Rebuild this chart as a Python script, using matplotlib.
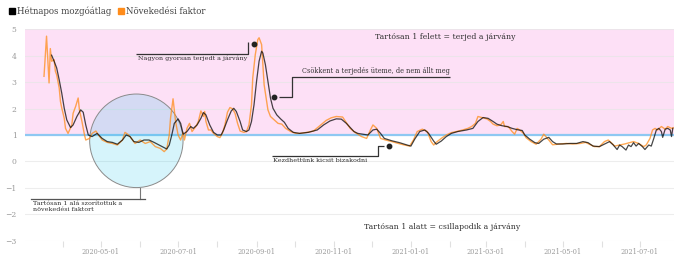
import matplotlib
matplotlib.use('Agg')
import matplotlib.pyplot as plt
import matplotlib.dates as mdates
from matplotlib.lines import Line2D
from matplotlib.patches import Ellipse
import pandas as pd

plt.rcParams['font.family'] = ['DejaVu Serif']

# Növekedési faktor (daily growth factor)
growth_dates = [
    '2020-03-17', '2020-03-19', '2020-03-21', '2020-03-22', '2020-03-23', '2020-03-25', '2020-03-26',
    '2020-03-27', '2020-03-29', '2020-03-30', '2020-03-31', '2020-04-02', '2020-04-03', '2020-04-05',
    '2020-04-08', '2020-04-09', '2020-04-11', '2020-04-13', '2020-04-14', '2020-04-16', '2020-04-18',
    '2020-04-19', '2020-04-22', '2020-04-24', '2020-04-27', '2020-04-29', '2020-05-02', '2020-05-06',
    '2020-05-10', '2020-05-14', '2020-05-18', '2020-05-20', '2020-05-23', '2020-05-25', '2020-05-28',
    '2020-06-01', '2020-06-05', '2020-06-09', '2020-06-13', '2020-06-17', '2020-06-20', '2020-06-22',
    '2020-06-24', '2020-06-25', '2020-06-27', '2020-06-29', '2020-07-01', '2020-07-03', '2020-07-05',
    '2020-07-06', '2020-07-08', '2020-07-10', '2020-07-12', '2020-07-15', '2020-07-17', '2020-07-19',
    '2020-07-21', '2020-07-22', '2020-07-23', '2020-07-25', '2020-07-27', '2020-07-29', '2020-08-01',
    '2020-08-03', '2020-08-05', '2020-08-07', '2020-08-09', '2020-08-11', '2020-08-13', '2020-08-15',
    '2020-08-17', '2020-08-19', '2020-08-22', '2020-08-24', '2020-08-26', '2020-08-28', '2020-08-29',
    '2020-08-31', '2020-09-02', '2020-09-03', '2020-09-05', '2020-09-06', '2020-09-07', '2020-09-09',
    '2020-09-10', '2020-09-12', '2020-09-15', '2020-09-18', '2020-09-21', '2020-09-24', '2020-09-28',
    '2020-10-02', '2020-10-05', '2020-10-11', '2020-10-16', '2020-10-21', '2020-10-26', '2020-10-30',
    '2020-11-03', '2020-11-08', '2020-11-14', '2020-11-18', '2020-11-23', '2020-11-27', '2020-11-30',
    '2020-12-02', '2020-12-05', '2020-12-08', '2020-12-12', '2020-12-17', '2020-12-22', '2020-12-27',
    '2020-12-31', '2021-01-03', '2021-01-06', '2021-01-10', '2021-01-14', '2021-01-17', '2021-01-19',
    '2021-01-21', '2021-01-25', '2021-01-29', '2021-02-02', '2021-02-06', '2021-02-11', '2021-02-15',
    '2021-02-18', '2021-02-21', '2021-02-23', '2021-02-26', '2021-03-02', '2021-03-05', '2021-03-07',
    '2021-03-10', '2021-03-13', '2021-03-15', '2021-03-16', '2021-03-19', '2021-03-22', '2021-03-24',
    '2021-03-26', '2021-03-28', '2021-03-31', '2021-04-02', '2021-04-06', '2021-04-10', '2021-04-14',
    '2021-04-16', '2021-04-20', '2021-04-23', '2021-04-29', '2021-05-04', '2021-05-09', '2021-05-15',
    '2021-05-19', '2021-05-22', '2021-05-26', '2021-05-30', '2021-06-03', '2021-06-06', '2021-06-09',
    '2021-06-11', '2021-06-15', '2021-06-19', '2021-06-23', '2021-06-26', '2021-06-30', '2021-07-04',
    '2021-07-06', '2021-07-09', '2021-07-11', '2021-07-13', '2021-07-15', '2021-07-18', '2021-07-21',
    '2021-07-23', '2021-07-26', '2021-07-28',
]
growth_values = [
    3.22, 4.74, 2.97, 4.27, 3.79, 3.85, 3.41,
    3.28, 2.78, 2.27, 2.03, 1.63, 1.25, 1.06,
    1.38, 1.82, 2.08, 2.40, 1.95, 1.51, 1.00,
    0.81, 0.87, 1.06, 1.15, 1.00, 0.81, 0.72,
    0.68, 0.62, 0.81, 1.10, 1.00, 0.87, 0.68,
    0.81, 0.68, 0.75, 0.56, 0.49, 0.37, 0.47,
    1.00, 1.63, 2.37, 1.51, 1.00, 0.81, 1.10,
    0.81, 1.25, 1.44, 1.13, 1.32, 1.51, 1.91,
    1.70, 1.89, 1.51, 1.19, 1.19, 1.06, 0.94,
    0.90, 1.06, 1.38, 1.86, 2.04, 1.99, 1.82,
    1.44, 1.15, 1.10, 1.13, 1.38, 2.14, 3.16,
    4.04, 4.61, 4.68, 4.42, 3.66, 2.90, 2.27,
    1.95, 1.70, 1.57, 1.44, 1.41, 1.25, 1.13,
    1.06, 1.06, 1.10, 1.15, 1.35, 1.55, 1.65,
    1.70, 1.68, 1.25, 1.09, 0.94, 0.87, 1.19,
    1.38, 1.25, 0.87, 0.81, 0.75, 0.68, 0.62,
    0.58, 0.81, 1.13, 1.22, 1.13, 0.75, 0.62,
    0.72, 0.87, 1.00, 1.09, 1.13, 1.19, 1.25,
    1.32, 1.44, 1.70, 1.66, 1.61, 1.51, 1.41,
    1.35, 1.38, 1.51, 1.32, 1.32, 1.13, 1.03,
    1.25, 1.19, 1.06, 0.90, 0.75, 0.65, 0.85,
    1.03, 0.81, 0.63, 0.66, 0.68, 0.66, 0.68,
    0.72, 0.65, 0.56, 0.56, 0.75, 0.81, 0.68,
    0.58, 0.62, 0.66, 0.71, 0.75, 0.68, 0.56,
    0.62, 0.87, 1.19, 1.25, 1.19, 1.32, 1.22,
    1.32, 1.25, 1.28,
]

# Hétnapos mozgóátlag (7-day moving average)
ma_dates = [
    '2020-03-23', '2020-03-25', '2020-03-27', '2020-03-29', '2020-03-31', '2020-04-02', '2020-04-04',
    '2020-04-07', '2020-04-09', '2020-04-12', '2020-04-15', '2020-04-17', '2020-04-19', '2020-04-21',
    '2020-04-24', '2020-04-28', '2020-05-02', '2020-05-06', '2020-05-10', '2020-05-14', '2020-05-18',
    '2020-05-21', '2020-05-24', '2020-05-27', '2020-05-31', '2020-06-04', '2020-06-08', '2020-06-12',
    '2020-06-16', '2020-06-20', '2020-06-22', '2020-06-24', '2020-06-26', '2020-06-28', '2020-07-01',
    '2020-07-03', '2020-07-05', '2020-07-08', '2020-07-11', '2020-07-13', '2020-07-16', '2020-07-19',
    '2020-07-21', '2020-07-23', '2020-07-26', '2020-07-29', '2020-08-01', '2020-08-04', '2020-08-06',
    '2020-08-09', '2020-08-12', '2020-08-14', '2020-08-16', '2020-08-19', '2020-08-21', '2020-08-24',
    '2020-08-26', '2020-08-28', '2020-08-30', '2020-09-01', '2020-09-03', '2020-09-05', '2020-09-06',
    '2020-09-08', '2020-09-10', '2020-09-12', '2020-09-14', '2020-09-17', '2020-09-20', '2020-09-23',
    '2020-09-26', '2020-09-30', '2020-10-05', '2020-10-12', '2020-10-19', '2020-10-24', '2020-10-29',
    '2020-11-03', '2020-11-07', '2020-11-11', '2020-11-17', '2020-11-20', '2020-11-24', '2020-11-28',
    '2020-12-02', '2020-12-05', '2020-12-08', '2020-12-11', '2020-12-17', '2020-12-23', '2020-12-29',
    '2021-01-01', '2021-01-04', '2021-01-08', '2021-01-12', '2021-01-15', '2021-01-19', '2021-01-21',
    '2021-01-25', '2021-01-29', '2021-02-02', '2021-02-07', '2021-02-14', '2021-02-19', '2021-02-23',
    '2021-02-27', '2021-03-03', '2021-03-07', '2021-03-10', '2021-03-14', '2021-03-18', '2021-03-22',
    '2021-03-26', '2021-03-30', '2021-04-01', '2021-04-05', '2021-04-09', '2021-04-12', '2021-04-16',
    '2021-04-20', '2021-04-23', '2021-04-26', '2021-05-01', '2021-05-07', '2021-05-12', '2021-05-17',
    '2021-05-21', '2021-05-25', '2021-05-30', '2021-06-04', '2021-06-07', '2021-06-10', '2021-06-13',
    '2021-06-15', '2021-06-17', '2021-06-20', '2021-06-22', '2021-06-24', '2021-06-26', '2021-06-28',
    '2021-06-30', '2021-07-03', '2021-07-05', '2021-07-08', '2021-07-10', '2021-07-12', '2021-07-14',
    '2021-07-16', '2021-07-18', '2021-07-19', '2021-07-21', '2021-07-23', '2021-07-25', '2021-07-26',
    '2021-07-27',
]
ma_values = [
    4.02, 3.79, 3.54, 3.09, 2.59, 2.01, 1.57,
    1.28, 1.38, 1.70, 1.95, 1.86, 1.38, 1.00,
    0.94, 1.06, 0.87, 0.75, 0.72, 0.65, 0.81,
    1.00, 0.94, 0.75, 0.72, 0.81, 0.81, 0.72,
    0.62, 0.52, 0.47, 0.62, 1.00, 1.44, 1.61,
    1.44, 1.03, 1.13, 1.32, 1.25, 1.38, 1.63,
    1.85, 1.76, 1.38, 1.10, 1.00, 1.00, 1.19,
    1.57, 1.91, 2.01, 1.89, 1.51, 1.19, 1.13,
    1.19, 1.51, 2.14, 3.03, 3.79, 4.17, 4.10,
    3.66, 3.03, 2.40, 2.01, 1.76, 1.61, 1.48,
    1.25, 1.10, 1.06, 1.10, 1.19, 1.38, 1.53,
    1.61, 1.60, 1.44, 1.13, 1.06, 1.03, 1.00,
    1.19, 1.22, 1.06, 0.87, 0.78, 0.71, 0.62,
    0.58, 0.84, 1.13, 1.19, 1.06, 0.77, 0.65,
    0.77, 0.94, 1.06, 1.13, 1.19, 1.25, 1.51,
    1.66, 1.63, 1.51, 1.41, 1.35, 1.32, 1.25,
    1.20, 1.17, 1.00, 0.84, 0.71, 0.68, 0.84,
    0.91, 0.75, 0.66, 0.66, 0.68, 0.68, 0.75,
    0.71, 0.58, 0.56, 0.68, 0.75, 0.62, 0.45,
    0.62, 0.56, 0.43, 0.62, 0.56, 0.71, 0.58,
    0.68, 0.56, 0.45, 0.62, 0.58, 0.87, 1.19,
    1.25, 1.13, 0.91, 1.22, 1.25, 1.19, 0.94,
    1.25,
]

legend_labels = ['Hétnapos mozgóátlag', 'Növekedési faktor']
above_text = 'Tartósan 1 felett = terjed a járvány'
below_text = 'Tartósan 1 alatt = csillapodik a járvány'

orange = '#ff8c1a'
text_col = '#333333'

g_x = pd.to_datetime(growth_dates)
m_x = pd.to_datetime(ma_dates)
d = lambda s: mdates.date2num(pd.Timestamp(s))

fig = plt.figure(figsize=(6.99, 2.58), dpi=100)
ax = fig.add_axes([0.0358, 0.0671, 0.9285, 0.8194])

ax.axhspan(1, 5, color='#fde0f6', lw=0, zorder=0)
for yv in range(-3, 6):
    ax.axhline(yv, color='#e6e6e6', lw=0.8, alpha=0.7, zorder=1)
ax.axhline(1, color='#8ec8f2', lw=1.6, zorder=2)

# circle around the spring lockdown period
circ = Ellipse((d('2020-05-29'), 0.78), 73.8, 3.54, facecolor='#00c0e8', alpha=0.16,
               edgecolor='none', zorder=2)
ax.add_patch(circ)
circ_edge = Ellipse((d('2020-05-29'), 0.78), 73.8, 3.54, facecolor='none',
                    edgecolor='#8a8a8a', lw=0.7, zorder=2)
ax.add_patch(circ_edge)

ax.plot(g_x, growth_values, color=orange, lw=1.0, alpha=0.75, zorder=3)
ax.plot(m_x, ma_values, color='black', lw=0.9, alpha=0.72, zorder=4)

ax.set_xlim(d('2020-03-02'), d('2021-07-28'))
ax.set_ylim(-3, 5)

ax.xaxis.set_major_locator(mdates.MonthLocator(bymonth=[1, 3, 5, 7, 9, 11]))
ax.xaxis.set_major_formatter(mdates.DateFormatter('%Y-%m-%d'))
ax.xaxis.set_minor_locator(mdates.MonthLocator())
ax.set_yticks(range(-3, 6))
ax.set_yticklabels([str(v).replace('-', '\u2212') for v in range(-3, 6)])
ax.tick_params(axis='x', which='both', length=4, color='#e0e0e0', width=0.8,
               labelsize=4.8, labelcolor='#9a9a9a', pad=1.5)
ax.tick_params(axis='y', length=0, labelsize=5.5, labelcolor='#9a9a9a', pad=6)
for s in ax.spines.values():
    s.set_visible(False)

# annotations
ann = dict(color=text_col, lw=0.9, zorder=6, solid_capstyle='butt')
ax.plot([d('2020-08-30')], [4.46], 'o', color='#222222', ms=3.2, zorder=7)
ax.plot([d('2020-08-25'), d('2020-08-25'), d('2020-05-29')], [4.5, 4.08, 4.08], **ann)
ax.text(d('2020-05-30'), 3.99, 'Nagyon gyorsan terjedt a járvány', fontsize=4.6,
        color=text_col, va='top', ha='left', zorder=7)

ax.plot([d('2020-09-15')], [2.44], 'o', color='#222222', ms=3.2, zorder=7)
ax.plot([d('2020-09-19'), d('2020-09-29'), d('2020-09-29'), d('2021-02-01')],
        [2.44, 2.44, 3.2, 3.2], **ann)
ax.text(d('2021-02-01'), 3.28, 'Csökkent a terjedés üteme, de nem állt meg', fontsize=4.7,
        color=text_col, va='bottom', ha='right', zorder=7)

ax.plot([d('2020-12-15')], [0.6], 'o', color='#222222', ms=3.2, zorder=7)
ax.plot([d('2020-12-11'), d('2020-12-06'), d('2020-12-06'), d('2020-09-13')],
        [0.6, 0.6, 0.2, 0.2], **ann)
ax.text(d('2020-09-14'), 0.12, 'Kezdhettünk kicsit bizakodni', fontsize=4.6,
        color=text_col, va='top', ha='left', zorder=7)

ax.plot([d('2020-06-01'), d('2020-06-01')], [-0.99, -1.42], color='#777777', lw=0.8, zorder=6)
ax.plot([d('2020-03-07'), d('2020-06-05')], [-1.42, -1.42], color='#555555', lw=0.9, zorder=6)
ax.text(d('2020-03-08'), -1.5, 'Tartósan 1 alá szorítottuk a\nnövekedési faktort', fontsize=4.6,
        color=text_col, va='top', ha='left', linespacing=1.35, zorder=7)

ax.text(d('2021-01-28'), 4.69, above_text, fontsize=5.6, color=text_col, ha='center', va='center')
ax.text(d('2021-01-26'), -2.5, below_text, fontsize=5.6, color=text_col, ha='center', va='center')

handles = [Line2D([], [], marker='s', color='black', ls='', ms=5),
           Line2D([], [], marker='s', color=orange, ls='', ms=5)]
fig.legend(handles, legend_labels, loc='upper left', bbox_to_anchor=(0.0, 1.005), ncol=2,
           frameon=False, fontsize=6.2, handletextpad=0.1, columnspacing=0.6,
           handlelength=1.0, labelcolor='#444444')

fig.savefig('out.png', dpi=100)
